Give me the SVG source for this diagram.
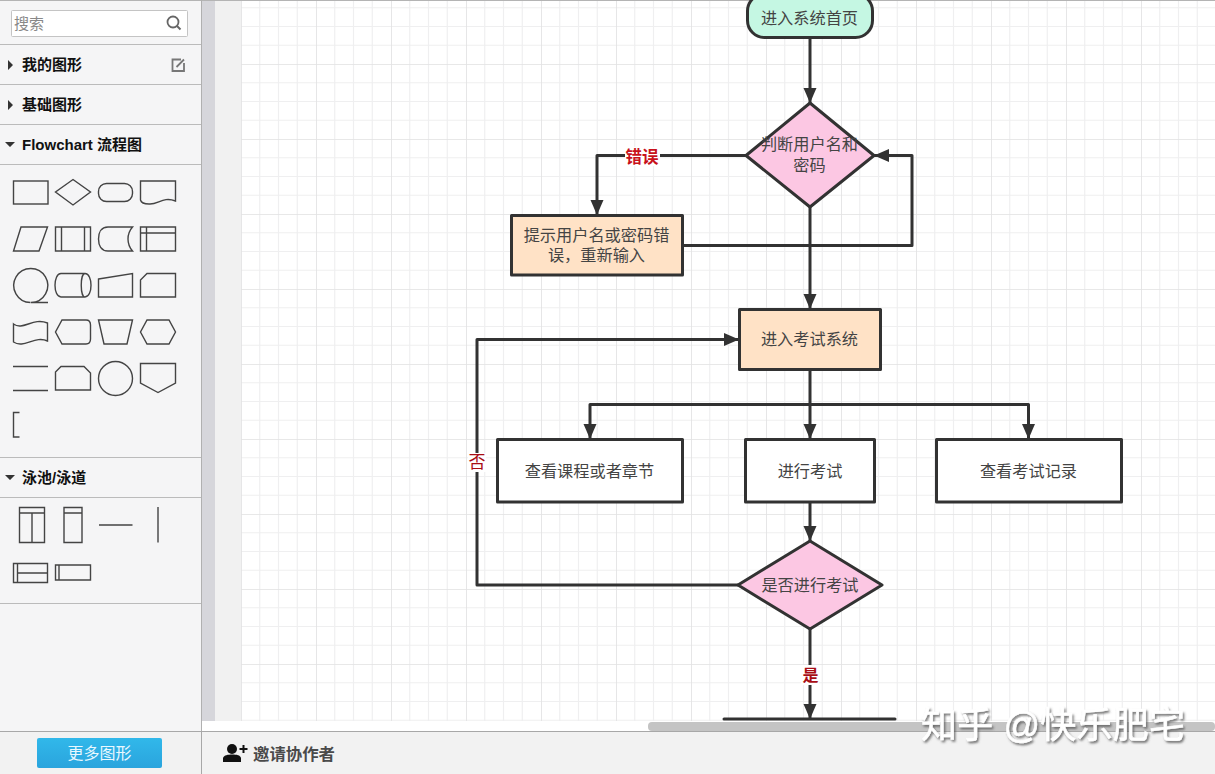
<svg xmlns="http://www.w3.org/2000/svg" width="1215" height="774" viewBox="0 0 1215 774">
<style>
text{font-family:"Liberation Sans","Noto Sans CJK SC",sans-serif}
.n{fill:#fff;stroke:#323232;stroke-width:3;stroke-linejoin:round}
.t{font-size:16.2px;fill:#444;text-anchor:middle}
.c{fill:none;stroke:#323232;stroke-width:3;stroke-linejoin:round}
.l{font-size:16px;font-weight:700;text-anchor:middle;fill:#a80d14}
.s{fill:none;stroke:#444;stroke-width:1.4}
.h{font-size:15px;font-weight:700;fill:#111}
.d{fill:none;stroke:#bbb;stroke-width:1.2}
.tri{fill:#333}
</style>
<defs>
<pattern id="grid" patternUnits="userSpaceOnUse" x="241" y="-11" width="75" height="75">
<path d="M0 0V75M18.75 0V75M37.5 0V75M56.25 0V75M0 0H75M0 18.75H75M0 37.5H75M0 56.25H75" fill="none" stroke="#efeff0" stroke-width="1.2"/>
<path d="M0 0V75M0 0H75" fill="none" stroke="#e2e2e3" stroke-width="1.600"/>
</pattern>
<marker id="a" markerUnits="userSpaceOnUse" markerWidth="16" markerHeight="14" refX="15" refY="7" orient="auto"><path d="M0 0.500L15 7L0 13.500Z" fill="#323232"/></marker>
<linearGradient id="btn" x1="0" y1="0" x2="0" y2="1"><stop offset="0" stop-color="#31b8ea"/><stop offset="1" stop-color="#2aa4dd"/></linearGradient>
<filter id="wm" x="-5%" y="-20%" width="110%" height="150%"><feDropShadow dx="1.500" dy="2" stdDeviation="1" flood-color="#555" flood-opacity="0.8"/></filter>
</defs>

<rect width="1215" height="774" fill="#fff"/>
<g id="canvas">
<rect x="202" y="0" width="13" height="721" fill="#d6d6db"/>
<rect x="215" y="0" width="26" height="721" fill="#f1f1f1"/>
<rect x="241" y="0" width="974" height="721" fill="#fff"/>
<rect x="241" y="0" width="974" height="721" fill="url(#grid)"/>
<rect x="202" y="0" width="1013" height="1" fill="#b4b4b4"/>
</g>

<g id="connectors">
<path class="c" d="M810 38V103" marker-end="url(#a)"/>
<path class="c" d="M746 155.500H597V215" marker-end="url(#a)"/>
<path class="c" d="M683 245.500H912V155.500H874" marker-end="url(#a)"/>
<path class="c" d="M810 207V309" marker-end="url(#a)"/>
<path class="c" d="M810 370V439" marker-end="url(#a)"/>
<path class="c" d="M810 404.500H590V439" marker-end="url(#a)"/>
<path class="c" d="M810 404.500H1028.500V439" marker-end="url(#a)"/>
<path class="c" d="M810 502V541" marker-end="url(#a)"/>
<path class="c" d="M738 585H477V339.500H739" marker-end="url(#a)"/>
<path class="c" d="M810 629V719" marker-end="url(#a)"/>
<rect x="625" y="147" width="35" height="19" fill="#fff"/>
<text class="l" x="642" y="163" style="fill:#c8111b;font-size:16.500px">错误</text>
<rect x="468" y="453" width="18" height="19" fill="#fff"/>
<text class="l" x="477" y="468" style="font-weight:400;font-size:17px">否</text>
<rect x="801" y="665" width="18" height="20" fill="#fff"/>
<text class="l" x="810.500" y="681">是</text>
</g>

<g id="node-start"><rect class="n" style="fill:#c5f7e3" x="747.500" y="-6" width="125" height="43.500" rx="17"/><text class="t" x="809.500" y="24">进入系统首页</text></g>
<g id="node-check"><path class="n" style="fill:#fcc7e3" d="M810 103L874 155.500L810 207L746 155.500Z"/><text class="t" x="809.500" y="150">判断用户名和</text><text class="t" x="809.500" y="171">密码</text></g>
<g id="node-error"><rect class="n" style="fill:#ffe2c6" x="511.500" y="215.500" width="171" height="59.500"/><text class="t" x="596.500" y="241">提示用户名或密码错</text><text class="t" x="596.500" y="261">误，重新输入</text></g>
<g id="node-exam"><rect class="n" style="fill:#ffe2c6" x="739.500" y="309.500" width="141" height="60"/><text class="t" x="809.500" y="345">进入考试系统</text></g>
<g id="node-course"><rect class="n" x="497.500" y="439.500" width="185" height="62.500"/><text class="t" x="589.500" y="477">查看课程或者章节</text></g>
<g id="node-test"><rect class="n" x="745.500" y="439.500" width="129" height="62.500"/><text class="t" x="810" y="477">进行考试</text></g>
<g id="node-record"><rect class="n" x="936.500" y="439.500" width="185" height="62.500"/><text class="t" x="1028.500" y="477">查看考试记录</text></g>
<g id="node-decide"><path class="n" style="fill:#fcc7e3" d="M810 541L882 585L810 629L738 585Z"/><text class="t" x="810" y="591">是否进行考试</text></g>
<g id="node-last"><path d="M724 719H895" stroke="#323232" stroke-width="3" stroke-linecap="round"/></g>
<rect x="202" y="721" width="1013" height="10" fill="#fff"/>
<rect id="scrollbar" x="648" y="722" width="567" height="9" rx="4" fill="#c4c4c4"/>

<g id="sidebar">
<rect x="0" y="0" width="201" height="731" fill="#f5f5f6"/>
<rect x="0" y="0" width="201" height="1" fill="#b4b4b4"/>
<rect x="201" y="0" width="1" height="731" fill="#b0b0b0"/>
<rect x="11.500" y="10.500" width="176" height="26" rx="1" fill="#fff" stroke="#c4c4c4"/>
<text x="14" y="29" font-size="15" fill="#888">搜索</text>
<circle cx="173" cy="22" r="5.500" fill="none" stroke="#666" stroke-width="1.800"/><path d="M177 26L180.500 29.500" stroke="#666" stroke-width="2"/>
<path class="d" d="M0 44.500H201M0 84.500H201M0 124.500H201M0 164.500H201M0 457.500H201M0 497.500H201M0 603.500H201"/>
<path class="tri" d="M8 60L13 65L8 70ZM8 100L13 105L8 110ZM5 142H15L10 147ZM5 475H15L10 480Z"/>
<text class="h" x="22" y="70">我的图形</text>
<text class="h" x="22" y="110">基础图形</text>
<text class="h" x="22" y="150">Flowchart 流程图</text>
<text class="h" x="22" y="483">泳池/泳道</text>
<path d="M181 59.500H172.500V71H184V63M176.500 67L184 59.500" fill="none" stroke="#777" stroke-width="1.800"/>

<g id="stencils">
<rect class="s" x="13.500" y="181" width="34.500" height="23"/>
<path class="s" d="M73 179.500L90.500 192L73 205L55.500 192Z"/>
<rect class="s" x="98.500" y="183.500" width="34" height="18" rx="8"/>
<path class="s" d="M140.500 181H175.500V201C163 196 158 205 149 204C143 204 141 202 140.500 200Z"/>
<path class="s" d="M21 227H47.500L39 251H13.500Z"/>
<path class="s" d="M55.500 227H90.500V251H55.500ZM61.500 227V251M84.500 227V251"/>
<path class="s" d="M132.500 227H108C101 227 98.500 233 98.500 239C98.500 245 101 251 108 251H132.500C129 247 128 243 128 239C128 235 129 231 132.500 227Z"/>
<path class="s" d="M140.500 227H175.500V251H140.500ZM146.500 227V251M140.500 233H175.500"/>
<path class="s" d="M30.500 302.500A17 17 0 1 1 31 302.500H48"/>
<path class="s" d="M61 273.500H85C93 273.500 93 297 85 297H61C53 297 53 273.500 61 273.500ZM85 273.500C80 273.500 80 297 85 297"/>
<path class="s" d="M98.500 279L132.500 273.500V297H98.500Z"/>
<path class="s" d="M147 273.500H175.500V297H140.500V280Z"/>
<path class="s" d="M13.500 324C23 331 33 317 47.500 323V341C35 335 24 349 13.500 342Z"/>
<path class="s" d="M62 320H86C89 320 90.500 322 90.500 325V339C90.500 342 89 344 86 344H62L55.500 332Z"/>
<path class="s" d="M98.500 320H132.500L127 344H104Z"/>
<path class="s" d="M147 320H169L175.500 332L169 344H147L140.500 332Z"/>
<path class="s" d="M13 366.500H48M13 390.500H48"/>
<path class="s" d="M61 366.500H84L90.500 373V390H55.500V372Z"/>
<circle class="s" cx="115.500" cy="378.500" r="17"/>
<path class="s" d="M140.500 363.500H175.500V383L158 392.500L140.500 383Z"/>
<path class="s" d="M19.500 412.500H13.500V437H19.500"/>
<path class="s" d="M19.500 507.500H44.500V542.500H19.500ZM19.500 513H44.500M32 513V542.500"/>
<path class="s" d="M64 507.500H82V542.500H64ZM64 513H82"/>
<path class="s" d="M99 525H132.500M158 507V542.500"/>
<path class="s" d="M13.500 563.500H47.500V582.500H13.500ZM17.500 563.500V582.500M17.500 573H47.500"/>
<path class="s" d="M55.500 565H90.500V580H55.500ZM59 565V580"/>
</g>
</g>

<g id="bottombar">
<rect x="0" y="731" width="1215" height="43" fill="#f2f2f2"/>
<rect x="0" y="731" width="1215" height="1" fill="#a8a8a8"/>
<rect x="201" y="731" width="1" height="43" fill="#a8a8a8"/>
<rect x="37" y="738" width="125" height="30" rx="2" fill="url(#btn)"/>
<text x="99.500" y="759" font-size="16" fill="#e8f8ff" text-anchor="middle">更多图形</text>
<circle cx="232" cy="749" r="5" fill="#111"/><path d="M223 762V758C224 755 228 754.500 232 754.500C237 754.500 240 755 241 758V762Z" fill="#111"/><path d="M243.500 745V753M239.500 749H247.500" stroke="#111" stroke-width="2"/>
<text x="253" y="760" font-size="16.400" font-weight="700" fill="#4a4a4a">邀请协作者</text>
</g>

<text id="watermark" x="921" y="738" font-size="36" fill="#fff" filter="url(#wm)" textLength="264" lengthAdjust="spacing" stroke="#fff" stroke-width="0.500">知乎 @快乐肥宅</text>
</svg>
